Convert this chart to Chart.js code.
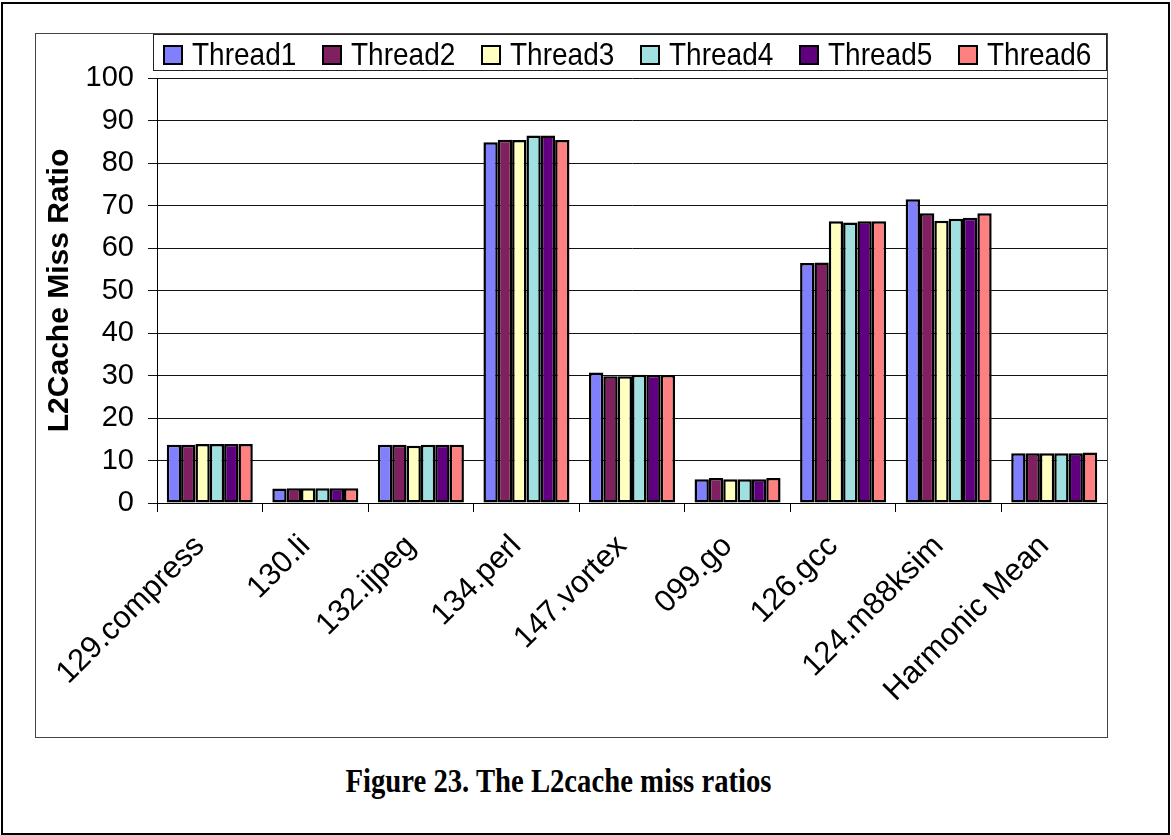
<!DOCTYPE html>
<html>
<head>
<meta charset="utf-8">
<script src="https://cdn.jsdelivr.net/npm/chart.js@4.4.1/dist/chart.umd.min.js"></script>
<style>
  html, body { margin: 0; padding: 0; background: #fff; width: 1171px; height: 835px; overflow: hidden; }
  #frame { position: absolute; left: 1px; top: 2px; width: 1165px; height: 829px; border: 2px solid #000; }
  #box { position: absolute; left: 35px; top: 33px; width: 1071px; height: 703px; border: 1px solid #444; }
  #box canvas { display: block; }
  #caption { position: absolute; left: 0; width: 1117px; top: 764px; text-align: center;
             font-family: "Liberation Serif", "Times New Roman", serif; font-weight: bold; font-size: 28.7px; color: #000;
             transform: scaleY(1.2); transform-origin: 50% 50%; }
</style>
</head>
<body>
<div id="frame"></div>
<div id="box"><canvas id="chart" width="1071" height="703" style="width:1071px;height:703px"></canvas></div>
<div id="caption">Figure 23. The L2cache miss ratios</div>
<script>
// Benchmarks on the x axis
const categories = ["129.compress", "130.li", "132.ijpeg", "134.perl", "147.vortex",
                    "099.go", "126.gcc", "124.m88ksim", "Harmonic Mean"];

// L2 cache miss ratio per thread
const thread1 = [13.7, 3.4, 13.7, 84.9, 30.7, 5.6, 56.5, 71.5, 11.7];
const thread2 = [13.7, 3.5, 13.7, 85.5, 29.8, 5.9, 56.6, 68.2, 11.7];
const thread3 = [13.9, 3.5, 13.5, 85.4, 29.8, 5.6, 66.3, 66.4, 11.7];
const thread4 = [13.9, 3.5, 13.7, 86.5, 30.2, 5.6, 66.0, 66.9, 11.7];
const thread5 = [13.9, 3.5, 13.7, 86.5, 30.1, 5.6, 66.3, 67.1, 11.7];
const thread6 = [13.9, 3.5, 13.7, 85.4, 30.1, 5.9, 66.3, 68.2, 11.9];

const seriesNames = ["Thread1", "Thread2", "Thread3", "Thread4", "Thread5", "Thread6"];
const seriesColors = ["#8080FF", "#802060", "#FFFFC0", "#A0E0E0", "#600080", "#FF8080"];
const seriesValues = [thread1, thread2, thread3, thread4, thread5, thread6];

// y axis: 0 to 100 in steps of 10
const yMin = 0, yMax = 100, yStep = 10;

const FONT = "'Liberation Sans', Arial, sans-serif";

// Boxed single-row legend drawn over the top of the chart
const boxedLegend = {
  id: 'boxedLegend',
  afterDraw(chart) {
    const ctx = chart.ctx;
    const left = 117, top = 0, right = 1071, bottom = 37;
    ctx.save();
    ctx.fillStyle = '#fff';
    ctx.fillRect(left, top, right - left, bottom - top);
    ctx.strokeStyle = '#222';
    ctx.lineWidth = 1;
    ctx.strokeRect(left + 0.5, top + 0.5, right - left - 1, bottom - top - 1);
    chart.data.datasets.forEach((ds, i) => {
      const x = 127 + i * 159;
      const y = 11;
      ctx.fillStyle = ds.backgroundColor;
      ctx.fillRect(x, y, 20, 20);
      ctx.strokeStyle = '#000';
      ctx.lineWidth = 2;
      ctx.strokeRect(x + 1, y + 1, 18, 18);
      // label text, slightly tall
      ctx.save();
      ctx.translate(x + 29, y + 11);
      ctx.scale(1, 1.15);
      ctx.font = '28px ' + FONT;
      ctx.textBaseline = 'middle';
      ctx.fillStyle = '#000';
      ctx.fillText(ds.label, 0, 0);
      ctx.restore();
    });
    ctx.restore();
  }
};

new Chart(document.getElementById('chart'), {
  type: 'bar',
  data: {
    labels: categories,
    datasets: seriesNames.map((name, i) => ({
      label: name,
      data: seriesValues[i],
      backgroundColor: seriesColors[i],
      borderColor: '#000',
      borderWidth: 2.5,
      borderSkipped: false,
      categoryPercentage: 0.815,
      barPercentage: 1.0
    }))
  },
  options: {
    responsive: false,
    animation: false,
    devicePixelRatio: 1,
    layout: { padding: { top: 44, left: 0, right: 0, bottom: 0 } },
    plugins: {
      legend: { display: false },
      tooltip: { enabled: false }
    },
    scales: {
      x: {
        grid: { display: true, drawOnChartArea: false, offset: true, color: '#000', tickLength: 9, lineWidth: 1 },
        border: { display: true, color: '#000', width: 1 },
        ticks: {
          color: '#000', font: { family: FONT, size: 31 },
          minRotation: 45, maxRotation: 45, padding: 16, labelOffset: -10, autoSkip: false
        },
        afterFit(scale) { scale.height = 234; }
      },
      y: {
        min: yMin, max: yMax,
        grid: { color: '#111', lineWidth: 1, tickLength: 9 },
        border: { display: true, color: '#000', width: 1 },
        ticks: { stepSize: yStep, color: '#000', font: { family: FONT, size: 29 }, padding: 14 },
        title: {
          display: true, text: 'L2Cache Miss Ratio', color: '#000',
          font: { family: FONT, size: 30, weight: 'bold' }, padding: { top: 6, bottom: 0 }
        },
        afterFit(scale) { scale.width = 121; }
      }
    }
  },
  plugins: [boxedLegend]
});
</script>
</body>
</html>
